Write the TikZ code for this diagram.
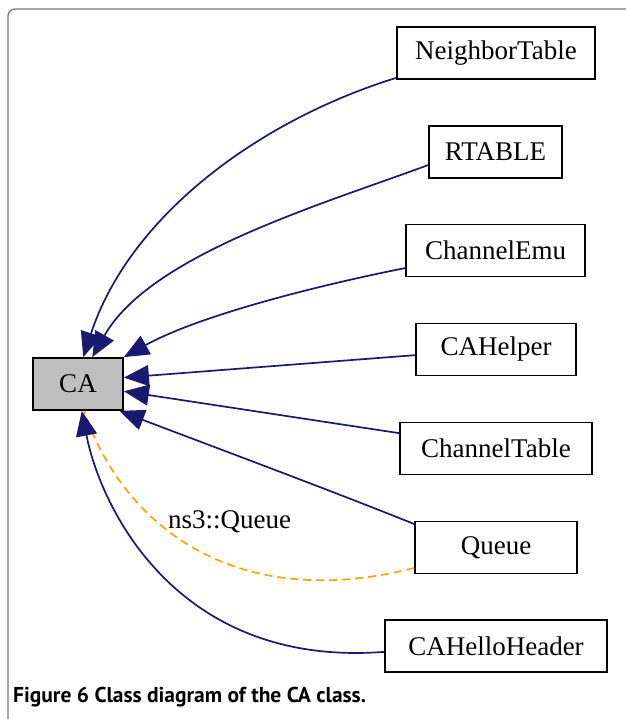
\documentclass[tikz,border=0pt]{standalone}
\usepackage{fontspec}
\setmainfont{Liberation Serif}
\newfontfamily\capfont{PT Sans}
\usetikzlibrary{arrows.meta}
\definecolor{edgeblue}{HTML}{191970}
\definecolor{useorange}{HTML}{FFA500}
\definecolor{cagray}{HTML}{BFBFBF}
\definecolor{framegray}{HTML}{777777}
\tikzset{
  cls/.style={draw, line width=1.8pt, inner sep=0pt, minimum height=52pt,
    font=\fontsize{27}{29}\selectfont},
  inh/.style={draw=edgeblue, line width=1.7pt, -{Triangle[length=25pt,width=21pt]}},
  usedby/.style={draw=useorange, line width=1.7pt, dash pattern=on 8pt off 5pt},
  lbl/.style={inner sep=0pt, font=\fontsize{27}{29}\selectfont}
}
\begin{document}
\begin{tikzpicture}[x=1pt,y=-1pt]
\useasboundingbox (0,0) rectangle (626,719);
\draw[framegray, line width=1.3pt, rounded corners=7pt] (8,719) -- (8,9) -- (626,9);
% classes
\node[cls, fill=cagray, minimum width=90pt] (ca) at (78,384) {CA};
\node[cls, minimum width=198pt] (nt) at (496,53) {NeighborTable};
\node[cls, minimum width=133pt] (rt) at (495.5,152) {RTABLE};
\node[cls, minimum width=179pt] (ce) at (495.5,250.5) {ChannelEmu};
\node[cls, minimum width=160pt] (ch) at (496,349.5) {CAHelper};
\node[cls, minimum width=192pt] (ct) at (496,448.5) {ChannelTable};
\node[cls, minimum width=162pt] (qu) at (496,547.5) {Queue};
\node[cls, minimum width=222pt] (chh) at (496,646) {CAHelloHeader};
% edges
\draw[inh] (nt.194) .. controls (260,120) and (130,215) .. (ca.79);
\draw[inh] (rt.191) .. controls (320,205) and (150,255) .. (ca.62);
\draw[inh] (ce.191) .. controls (320,285) and (200,315) .. (ca.north east);
\draw[inh] (ch.184) -- (ca.8);
\draw[inh] (ct.171) -- (ca.-9);
\draw[inh] (qu.164) .. controls (330,490) and (190,438) .. (ca.-33);
\draw[usedby] (qu.194) .. controls (230,615) and (120,520) .. (ca.-77);
\node[lbl] (qlabel) at (229.5,522) {ns3::Queue};
\draw[inh] (chh.183) .. controls (175,668) and (100,505) .. (ca.-82);
% caption
\node[anchor=base west, inner sep=0pt, font=\capfont\bfseries\fontsize{21.5}{24}\selectfont] (caption) at (13,702)
  {Figure 6 Class diagram of the CA class.};
\end{tikzpicture}
\end{document}
